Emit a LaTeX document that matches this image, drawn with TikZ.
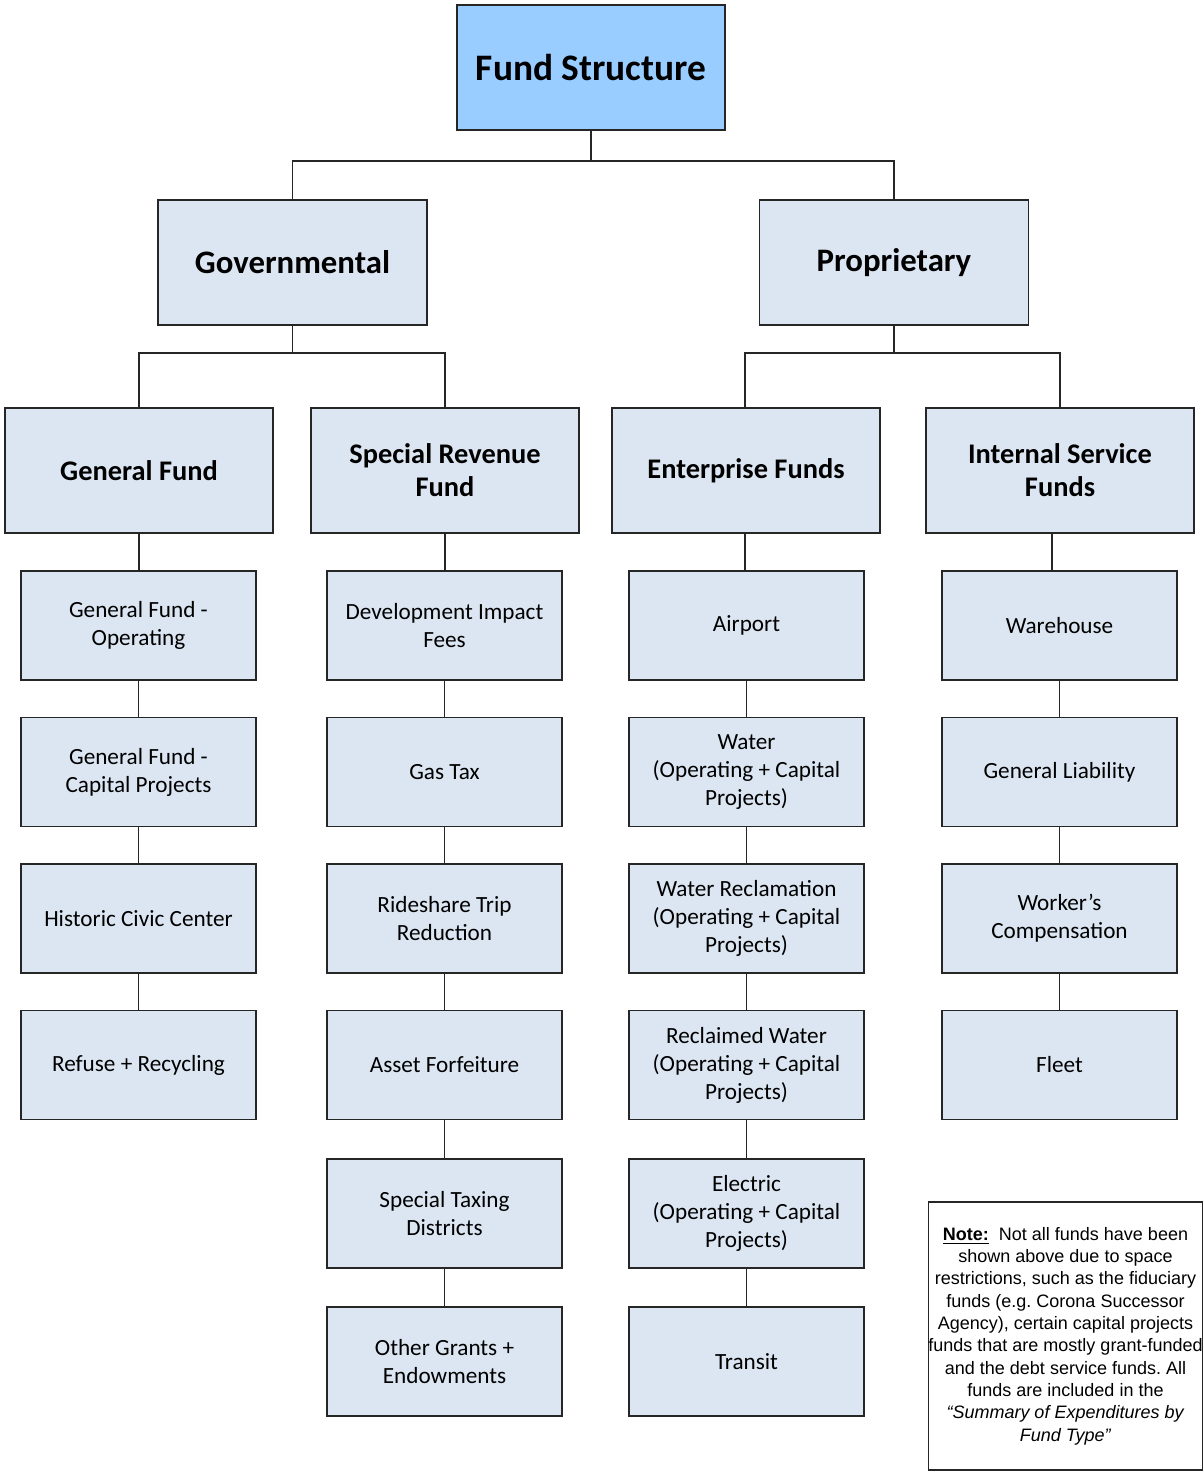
\documentclass[tikz,border=0pt]{standalone}
\usepackage{fontspec}
\setmainfont{Carlito}
\newfontfamily\notefont{Liberation Sans}
\usepackage{xcolor}
\usepackage{tikz}
\definecolor{topblue}{HTML}{99CCFF}
\definecolor{boxblue}{HTML}{DCE6F2}
\frenchspacing
\tikzset{
  fundbox/.style={draw=black!85, line width=0.75pt, fill=boxblue, inner sep=0pt, align=center},
  topbox/.style={fundbox, fill=topblue, minimum width=134pt, minimum height=62.5pt, font=\fontsize{18.7}{22}\selectfont\bfseries},
  groupbox/.style={fundbox, minimum width=134.5pt, minimum height=62.5pt, font=\fontsize{16.4}{19}\selectfont\bfseries},
  typebox/.style={fundbox, minimum width=134pt, minimum height=62.5pt, font=\fontsize{14.2}{16.5}\selectfont\bfseries},
  itembox/.style={fundbox, minimum width=117.5pt, minimum height=54.5pt, font=\fontsize{11.6}{14}\selectfont},
  link/.style={draw=black!85, line width=0.75pt}
}

\begin{document}
\begin{tikzpicture}[x=0.5pt, y=-0.5pt]
\useasboundingbox (0,0) rectangle (1203,1473);

%%    NODES   %%
\node[topbox] (fs) at (591,67.5) {Fund Structure};

\node[groupbox] (gov) at (292.5,262.5) {Governmental};
\node[groupbox] (prop) at (894,262.5) {Proprietary};

\node[typebox] (gf) at (139,470.5) {General Fund};
\node[typebox] (srf) at (445,470.5) {Special Revenue\\Fund};
\node[typebox] (ef) at (746,470.5) {Enterprise Funds};
\node[typebox] (isf) at (1060,470.5) {Internal Service\\Funds};

% general fund column
\node[itembox] (gfop) at (138.5,625.5) {General Fund -\\Operating};
\node[itembox] (gfcp) at (138.5,772) {General Fund -\\Capital Projects};
\node[itembox] (hcc) at (138.5,918.5) {Historic Civic Center};
\node[itembox] (refuse) at (138.5,1065) {Refuse + Recycling};

% special revenue column
\node[itembox] (dif) at (444.5,625.5) {Development Impact\\Fees};
\node[itembox] (gas) at (444.5,772) {Gas Tax};
\node[itembox] (ride) at (444.5,918.5) {Rideshare Trip\\Reduction};
\node[itembox] (asset) at (444.5,1065) {Asset Forfeiture};
\node[itembox] (taxing) at (444.5,1213.5) {Special Taxing\\Districts};
\node[itembox] (grants) at (444.5,1361.5) {Other Grants +\\Endowments};

% enterprise column
\node[itembox] (airport) at (746.5,625.5) {Airport};
\node[itembox] (water) at (746.5,772) {Water\\(Operating + Capital\\Projects)};
\node[itembox] (wrecl) at (746.5,918.5) {Water Reclamation\\(Operating + Capital\\Projects)};
\node[itembox] (rwater) at (746.5,1065) {Reclaimed Water\\(Operating + Capital\\Projects)};
\node[itembox] (elec) at (746.5,1213.5) {Electric\\(Operating + Capital\\Projects)};
\node[itembox] (transit) at (746.5,1361.5) {Transit};

% internal service column
\node[itembox] (wh) at (1059.5,625.5) {Warehouse};
\node[itembox] (gl) at (1059.5,772) {General Liability};
\node[itembox] (wc) at (1059.5,918.5) {Worker’s\\Compensation};
\node[itembox] (fleet) at (1059.5,1065) {Fleet};

% note
\node[draw=black!85, line width=0.75pt, minimum width=137pt, minimum height=134pt, inner sep=0pt, align=center,
  font=\notefont\fontsize{9}{11.15}\selectfont] (note) at (1065.5,1336)
  {\underline{\textbf{Note:}}\ \ Not all funds have been\\
   shown above due to space\\
   restrictions, such as the fiduciary\\
   funds (e.g. Corona Successor\\
   Agency), certain capital projects\\
   funds that are mostly grant-funded\\
   and the debt service funds. All\\
   funds are included in the\\
   \textit{“Summary of Expenditures by}\\
   \textit{Fund Type”}};

%%    JOINTS    %%
\coordinate (fsj) at (591,161);
\coordinate (govj) at (292.5,353);
\coordinate (propj) at (894,353);

%%    LINKS    %%
\draw[link] (fs.south) -- (fsj);
\draw[link] (gov.north) |- (fsj) -| (prop.north);
\draw[link] (gov.south) -- (govj);
\draw[link] (gf.north) |- (govj) -| (srf.north);
\draw[link] (prop.south) -- (propj);
\draw[link] ([xshift=-0.5pt]ef.north) |- (propj) -| (isf.north);

\draw[link] (gf.south) -- (gf.south |- gfop.north);
\draw[link] (gfop) -- (gfcp);
\draw[link] (gfcp) -- (hcc);
\draw[link] (hcc) -- (refuse);

\draw[link] (srf.south) -- (srf.south |- dif.north);
\draw[link] (dif) -- (gas);
\draw[link] (gas) -- (ride);
\draw[link] (ride) -- (asset);
\draw[link] (asset) -- (taxing);
\draw[link] (taxing) -- (grants);

\draw[link] ([xshift=-0.5pt]ef.south) -- ([xshift=-0.5pt]ef.south |- airport.north);
\draw[link] (airport) -- (water);
\draw[link] (water) -- (wrecl);
\draw[link] (wrecl) -- (rwater);
\draw[link] (rwater) -- (elec);
\draw[link] (elec) -- (transit);

\draw[link] ([xshift=-4pt]isf.south) -- ([xshift=-4pt]isf.south |- wh.north);
\draw[link] (wh) -- (gl);
\draw[link] (gl) -- (wc);
\draw[link] (wc) -- (fleet);

\end{tikzpicture}
\end{document}
